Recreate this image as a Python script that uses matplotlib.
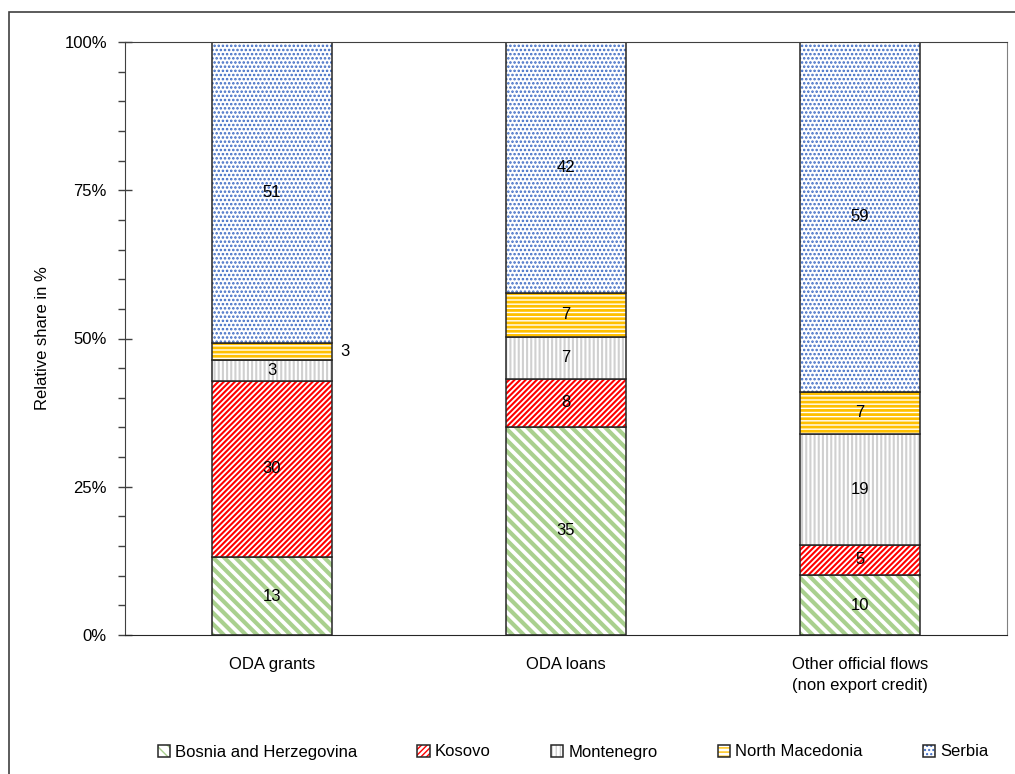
import matplotlib
matplotlib.use('Agg')
import matplotlib.pyplot as plt
import matplotlib.patches as mpatches
import numpy as np

plt.rcParams['font.family'] = ['Liberation Sans', 'DejaVu Sans']
plt.rcParams['font.size'] = 12

categories = ['ODA grants', 'ODA loans', 'Other official flows\n(non export credit)']
countries = ['Bosnia and Herzegovina', 'Kosovo', 'Montenegro', 'North Macedonia', 'Serbia']

# relative shares in %, one list per country (order follows categories)
bosnia = [13.1, 35.1, 10.1]
kosovo = [29.8, 8.1, 5.1]
montenegro = [3.4, 7.1, 18.7]
north_macedonia = [2.9, 7.4, 7.1]
serbia = [50.8, 42.3, 59.0]

series = [bosnia, kosovo, montenegro, north_macedonia, serbia]
hatch_colors = ['#a9d08e', '#ff0000', '#d0d0d0', '#ffc000', '#3d6bc4']
hatches = ['\\\\\\', '//////', '||||', '----', '....']
hatch_widths = [3.0, 1.5, 1.5, 2.0, 1.2]

fig = plt.figure(figsize=(10.15, 7.74), dpi=100)
ax = fig.add_axes([125 / 1015, 139 / 774, 882 / 1015, 593 / 774])

x = np.arange(len(categories))
width = 0.405
bottom = np.zeros(len(categories))
handles = []
for name, vals, hc, h, hw in zip(countries, series, hatch_colors, hatches, hatch_widths):
    vals = np.array(vals)
    with plt.rc_context({'hatch.linewidth': hw}):
        hb = ax.bar(x, vals, width, bottom=bottom, color='white', edgecolor=hc,
                    hatch=h, linewidth=0)
    ob = ax.bar(x, vals, width, bottom=bottom, color='none', edgecolor='#262626',
                linewidth=1.1)
    handles.append((hb[0], ob[0]))
    for xi, b, v in zip(x, bottom, vals):
        # thin slice in the first bar gets its label beside the bar
        if v < 3.0:
            ax.text(xi + width / 2 + 0.03, b + v / 2, '%.0f' % v, ha='left', va='center', fontsize=12)
        else:
            ax.text(xi, b + v / 2, '%.0f' % v, ha='center', va='center', fontsize=12)
    bottom += vals

ax.set_xlim(-0.5, 2.5)
ax.set_ylim(0, 100)
ax.set_xticks(x)
ax.set_xticklabels(categories, linespacing=1.5)
ax.tick_params(axis='x', length=0, pad=16)
ax.set_yticks([0, 25, 50, 75, 100])
ax.set_yticklabels(['0%', '25%', '50%', '75%', '100%'])
ax.set_yticks(np.arange(0, 101, 5), minor=True)
ax.tick_params(axis='y', which='major', direction='inout', length=10, width=1, color='#404040', pad=8)
ax.tick_params(axis='y', which='minor', direction='out', length=5, width=1, color='#404040')
ax.set_ylabel('Relative share in %', fontsize=12, labelpad=10)

ax.spines['bottom'].set_color('#262626')
ax.spines['left'].set_color('#404040')
ax.spines['top'].set_color('#404040')
ax.spines['right'].set_color('#808080')

fig.legend(handles, countries, loc='center', bbox_to_anchor=(573 / 1015, 22 / 774),
           ncol=5, frameon=False, handlelength=0.75, handleheight=0.75,
           handletextpad=0.3, columnspacing=3.6, fontsize=12)

# outer border of the chart area
fig.patches.append(mpatches.Rectangle((9 / 1015, -0.1), 1.2, (774 - 12) / 774 + 0.1,
                                      transform=fig.transFigure, fill=False,
                                      edgecolor='#404040', linewidth=1.2))

fig.savefig('out.png', dpi=100)
